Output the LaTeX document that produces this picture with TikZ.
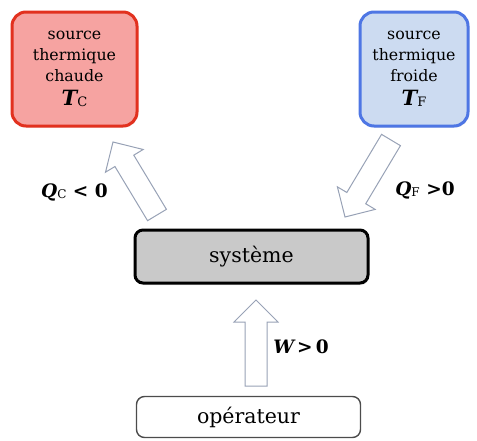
\documentclass[tikz,border=0pt]{standalone}
\usepackage{fontspec}
\setmainfont{DejaVu Serif}
\usetikzlibrary{calc,shadows}

\definecolor{hotfill}{HTML}{F6A3A1}
\definecolor{hotline}{HTML}{E2311F}
\definecolor{coldfill}{HTML}{CCDBF1}
\definecolor{coldline}{HTML}{4E76E4}
\definecolor{sysfill}{HTML}{C9C9C9}
\definecolor{fluxline}{HTML}{98A2B6}

\tikzset{
  reservoir/.style={draw, line width=3pt, rounded corners=14pt, align=center,
    inner sep=0pt, font=\fontsize{15.8}{21}\selectfont,
    drop shadow={opacity=0.18, shadow xshift=1pt, shadow yshift=-1.5pt}},
  sysbox/.style={draw=black, fill=sysfill, line width=3pt, rounded corners=8pt,
    font=\fontsize{20.5}{22}\selectfont,
    drop shadow={opacity=0.2, shadow xshift=1pt, shadow yshift=-2pt}},
  opbox/.style={draw=black!70, fill=white, line width=1.4pt, rounded corners=8pt,
    font=\fontsize{20.5}{22}\selectfont},
  flux/.style={draw=fluxline, fill=white, line width=1pt, line join=miter},
  fluxlabel/.style={font=\fontsize{18.5}{20}\selectfont\bfseries, inner sep=0pt}
}

% hollow block arrow from tail #1 to tip #2
\newcommand{\fluxarrow}[2]{%
  \coordinate (#1h) at ($(#2)!22pt!(#1)$);
  \draw[flux] ($(#1)!11pt!90:(#2)$) -- ($(#1h)!11pt!90:(#2)$)
    -- ($(#1h)!22pt!90:(#2)$) -- (#2) -- ($(#1h)!22pt!-90:(#2)$)
    -- ($(#1h)!11pt!-90:(#2)$) -- ($(#1)!11pt!-90:(#2)$) -- cycle;}

\newcommand{\temp}[1]{{\fontsize{21}{20}\selectfont\bfseries\itshape T}\raisebox{-1pt}{\fontsize{13}{13}\selectfont #1}}
\newcommand{\heat}[1]{{\itshape Q}\raisebox{-1pt}{\fontsize{12}{12}\selectfont\mdseries #1}}

\begin{document}
\begin{tikzpicture}[x=1pt,y=-1pt]
  \useasboundingbox (0,0) rectangle (477,440);

  % heat reservoirs
  \node[reservoir, fill=hotfill, draw=hotline, minimum width=125pt, minimum height=114pt]
    (hot) at (74.5,69) {source\\thermique\\chaude\\[3pt]\temp{C}};
  \node[reservoir, fill=coldfill, draw=coldline, minimum width=108pt, minimum height=114pt]
    (cold) at (414,69) {source\\thermique\\froide\\[3pt]\temp{F}};

  % system and operator
  \node[sysbox, minimum width=233pt, minimum height=53pt] (sys) at (251.5,256.5) {système};
  \node[opbox, minimum width=224pt, minimum height=41pt] (op) at (248.5,417) {opérateur};

  % energy exchanges
  \coordinate (qcTail) at (157,215);
  \coordinate (qcTip) at (113,142);
  \coordinate (qfTail) at (391,140);
  \coordinate (qfTip) at (345,217);
  \coordinate (wTail) at (256,386);
  \coordinate (wTip) at (256,300);
  \fluxarrow{qcTail}{qcTip}
  \fluxarrow{qfTail}{qfTip}
  \fluxarrow{wTail}{wTip}

  \node[fluxlabel] (qc) at (74.5,192) {\heat{C} < 0};
  \node[fluxlabel] (qf) at (425,190) {\heat{F} >0};
  \node[fluxlabel] (w) at (301,347) {{\itshape W}\,>\,0};
\end{tikzpicture}
\end{document}
